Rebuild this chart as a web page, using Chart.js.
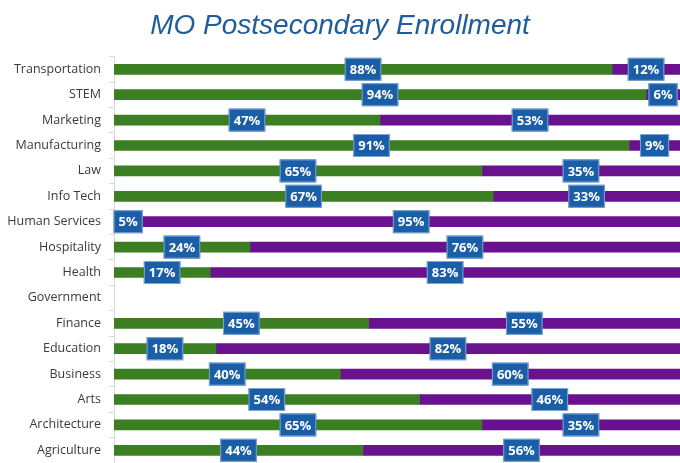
<!DOCTYPE html>
<html>
<head>
<meta charset="utf-8">
<script src="https://cdn.jsdelivr.net/npm/chart.js@4"></script>
<style>
  html, body { margin: 0; padding: 0; background: #fff; overflow: hidden; }
  canvas { display: block; }
</style>
</head>
<body>
<canvas id="myChart" width="680" height="463"></canvas>
<script>
var categories = ['Transportation', 'STEM', 'Marketing', 'Manufacturing', 'Law', 'Info Tech',
    'Human Services', 'Hospitality', 'Health', 'Government', 'Finance', 'Education',
    'Business', 'Arts', 'Architecture', 'Agriculture'];
var greenPct = [88, 94, 47, 91, 65, 67, 5, 24, 17, null, 45, 18, 40, 54, 65, 44];
var purplePct = [12, 6, 53, 9, 35, 33, 95, 76, 83, null, 55, 82, 60, 46, 35, 56];

// draws the blue boxes with the % in the middle of each segment
var boxLabels = {
    id: 'boxLabels',
    afterDatasetsDraw: function(chart) {
        var ctx = chart.ctx;
        ctx.save();
        ctx.font = 'bold 13px "Open Sans"';
        ctx.textAlign = 'center';
        ctx.textBaseline = 'middle';
        chart.data.datasets.forEach(function(ds, i) {
            var meta = chart.getDatasetMeta(i);
            meta.data.forEach(function(bar, j) {
                var v = ds.data[j];
                if (v == null) return;
                var cx = (bar.x + bar.base) / 2;
                var cy = bar.y;
                var txt = v + '%';
                var w = ctx.measureText(txt).width + 10;
                var h = 23;
                ctx.fillStyle = '#1b5ea8';
                ctx.fillRect(cx - w / 2, cy - h / 2, w, h);
                ctx.strokeStyle = '#7fa6d2';
                ctx.lineWidth = 1;
                ctx.strokeRect(cx - w / 2 + 0.5, cy - h / 2 + 0.5, w - 1, h - 1);
                ctx.fillStyle = '#ffffff';
                ctx.fillText(txt, cx, cy + 1);
            });
        });
        ctx.restore();
    }
};

var ctx = document.getElementById('myChart').getContext('2d');
var myChart = new Chart(ctx, {
    type: 'bar',
    data: {
        labels: categories,
        datasets: [{
            label: 'Green',
            data: greenPct,
            backgroundColor: '#3b7f22',
            barThickness: 10
        }, {
            label: 'Purple',
            data: purplePct,
            backgroundColor: '#6a118f',
            barThickness: 10
        }]
    },
    options: {
        indexAxis: 'y',
        responsive: false,
        animation: false,
        layout: { autoPadding: false, padding: 0 },
        plugins: {
            legend: { display: false },
            tooltip: { enabled: false },
            title: {
                display: true,
                text: 'MO Postsecondary Enrollment',
                color: '#1f5c9a',
                font: { family: '"Liberation Sans"', size: 28, style: 'italic', weight: 'normal' },
                padding: { top: 9, bottom: 14 }
            }
        },
        scales: {
            x: {
                stacked: true,
                display: false,
                min: 0,
                max: 100,
                afterFit: function(scale) { scale.height = 0; }
            },
            y: {
                stacked: true,
                afterFit: function(scale) {
                    scale.width = 114;
                    scale.paddingTop = 0;
                    scale.paddingBottom = 0;
                },
                border: { display: true, color: '#d9d9d9', width: 1 },
                grid: { drawOnChartArea: false, tickLength: 5, color: '#d9d9d9' },
                ticks: {
                    color: '#3a3a3a',
                    padding: 8,
                    font: { family: '"Open Sans"', size: 12.5 }
                }
            }
        }
    },
    plugins: [boxLabels]
});
</script>
</body>
</html>
